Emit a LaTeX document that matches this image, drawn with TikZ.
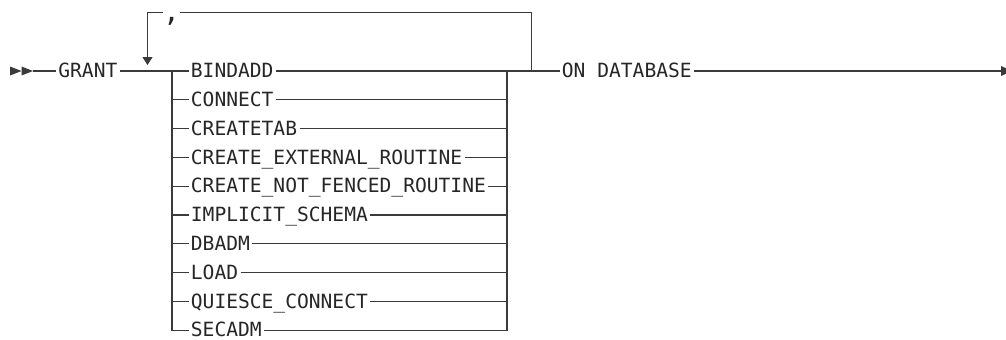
\documentclass[tikz,border=0pt]{standalone}
\usepackage{fontspec}
\newfontfamily\railfont{DejaVu Sans Mono}
\usetikzlibrary{arrows.meta,positioning}
\definecolor{cRail}{HTML}{3A3A3A}
\definecolor{cWord}{HTML}{262626}
\tikzset{
  kw/.style={font=\railfont\fontsize{9.8}{10}\selectfont,text=cWord,inner xsep=1pt,inner ysep=0pt,text height=6.7pt,text depth=0pt,anchor=west},
  rail/.style={draw=cRail,line width=.55pt},
  tip/.style={fill=cRail},
  down/.style={-{Triangle[length=4pt,width=5pt]}},
}

\begin{document}
\begin{tikzpicture}[x=0.5pt,y=-0.5pt]
  \useasboundingbox (0,0) rectangle (1006,339);
  % junctions
  \coordinate (st) at (33,71);
  \coordinate (br) at (172,71);
  \coordinate (bl) at (507,71);
  \coordinate (lp) at (531.5,71);
  \coordinate (dn) at (147.5,65);
  \coordinate (fin) at (1001,71);
  % keywords
  \node[kw] (grant) at (56,71) {GRANT};
  \foreach \w [count=\k] in {BINDADD,CONNECT,CREATETAB,CREATE\_EXTERNAL\_ROUTINE,
      CREATE\_NOT\_FENCED\_ROUTINE,IMPLICIT\_SCHEMA,DBADM,LOAD,QUIESCE\_CONNECT,SECADM}
    \node[kw] (o\k) at (188.5,{71+28.8*(\k-1)}) {\w};
  \node[kw] (ondb) at (559.5,71) {ON DATABASE};
  \node[kw,font=\railfont\fontsize{14}{14}\selectfont,inner xsep=0pt,text height=9pt,anchor=base] (sep) at (171.5,21.5) {,};
  % start and end marks
  \fill[tip] (10,66.5) -- (21.5,71) -- (10,75.5) -- cycle;
  \fill[tip] (21.5,66.5) -- (33,71) -- (21.5,75.5) -- cycle;
  \fill[tip] (1001,66) -- (1012,71) -- (1001,76) -- cycle;
  % main line
  \draw[rail] (st) -- (grant.west);
  \draw[rail] (grant.east) -- (o1.west);
  \draw[rail] (o1.east) -- (lp) -- (ondb.west);
  \draw[rail] (ondb.east) -- (fin);
  % choice stack
  \draw[rail] (br) |- (o10.west);
  \draw[rail] (o10.east) -| (bl);
  \foreach \k in {2,...,9} {
    \draw[rail] (br |- o\k.west) -- (o\k.west);
    \draw[rail] (o\k.east) -- (bl |- o\k.east);
  }
  % repeat loop
  \draw[rail] (lp) |- (sep.east);
  \draw[rail,down] (sep.west) -| (dn);
\end{tikzpicture}
\end{document}
